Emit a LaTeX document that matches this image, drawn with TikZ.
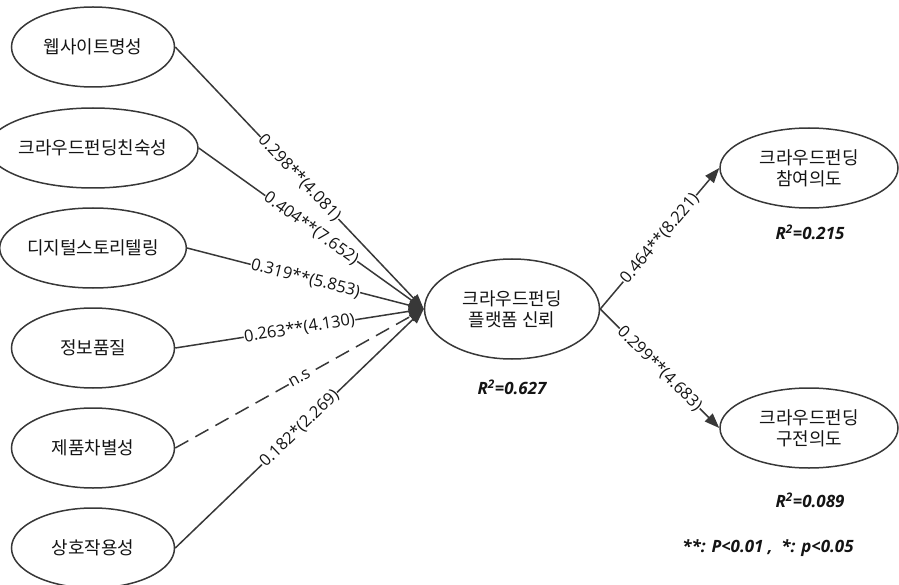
\documentclass[tikz,border=0pt]{standalone}
\usepackage{fontspec}
\setmainfont{Noto Sans CJK KR}
\newfontfamily\numfont{Open Sans}
\usetikzlibrary{shapes.geometric,arrows.meta}
\definecolor{linegray}{HTML}{383838}
\definecolor{textgray}{HTML}{141414}

\begin{document}
\begin{tikzpicture}[x=1bp,y=-1bp,
    construct/.style={ellipse, draw=linegray, line width=1.5bp, minimum width=163bp, minimum height=80bp,
        inner sep=0pt, align=center, text=textgray, font=\fontsize{18}{21}\selectfont},
    link/.style={draw=linegray, line width=1.5bp, -{Triangle[length=15bp,width=11bp]}},
    coef/.style={pos=.5, sloped, fill=white, inner sep=.5bp, text=textgray, font=\numfont\fontsize{16.5}{19}\selectfont},
    rsq/.style={text=textgray, font=\numfont\bfseries\itshape\fontsize{17}{19}\selectfont}]
    \useasboundingbox (0,0) rectangle (899,585);

    % Left constructs
    \node[construct] (web) at (93,47) {웹사이트명성};
    \node[construct] (fam) at (93,148) {크라우드펀딩친숙성};
    \node[construct] (story) at (93,248) {디지털스토리텔링};
    \node[construct] (info) at (93,348) {정보품질};
    \node[construct] (prod) at (93,448) {제품차별성};
    \node[construct] (inter) at (93,548) {상호작용성};

    % Centre and right constructs
    \node[construct, minimum width=175bp, minimum height=100bp] (trust) at (512,309) {크라우드펀딩\\플랫폼 신뢰};
    \node[construct, minimum width=178bp] (join) at (809,168) {크라우드펀딩\\참여의도};
    \node[construct, minimum width=178bp] (wom) at (809,428) {크라우드펀딩\\구전의도};

    % R squared and note
    \node[rsq] (r1) at (512,387) {R\textsuperscript{2}=0.627};
    \node[rsq] (r2) at (810,232) {R\textsuperscript{2}=0.215};
    \node[rsq] (r3) at (810,500) {R\textsuperscript{2}=0.089};
    \node[rsq] (note) at (768,548) {**: P<0.01 ,\ \ *: p<0.05};

    % Paths into trust
    \draw[link] (web.east) -- (trust.west) node[coef] {0.298**(4.081)};
    \draw[link] (fam.east) -- (trust.west) node[coef] {0.404**(7.652)};
    \draw[link] (story.east) -- (trust.west) node[coef] {0.319**(5.853)};
    \draw[link] (info.east) -- (trust.west) node[coef] {0.263**(4.130)};
    \draw[link, dash pattern=on 15bp off 8bp] (prod.east) -- (trust.west) node[coef] {n.s};
    \draw[link] (inter.east) -- (trust.west) node[coef] {0.182*(2.269)};

    % Paths out of trust
    \draw[link] (trust.east) -- (join.west) node[coef] {0.464**(8.221)};
    \draw[link] (trust.east) -- (wom.west) node[coef] {0.299**(4.683)};

\end{tikzpicture}
\end{document}
